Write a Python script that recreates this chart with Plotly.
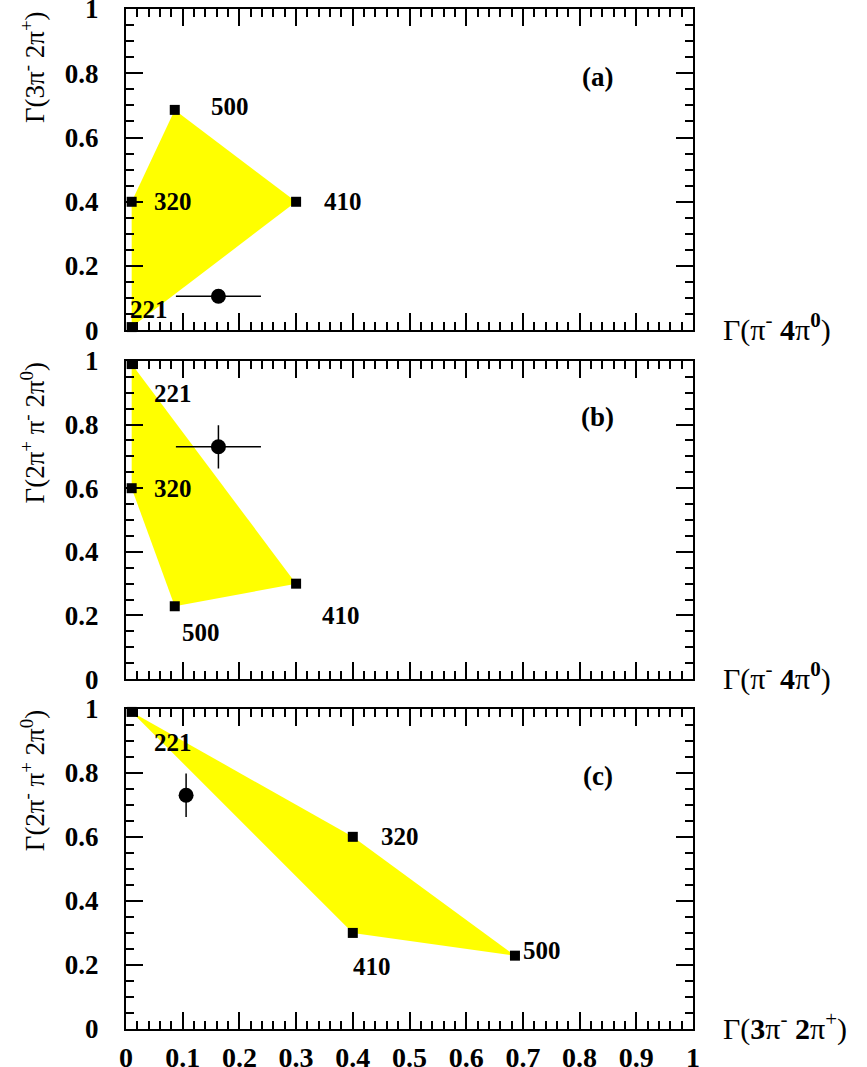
import plotly.graph_objects as go

# model predictions (isospin classes) and the measurement
models = ['221', '320', '410', '500']
g_pi4pi0 = [0.01, 0.01, 0.30, 0.086]      # Gamma(pi- 4pi0)
g_3pi2pi = [0.01, 0.40, 0.40, 0.686]      # Gamma(3pi- 2pi+)
g_2pipi2pi = [0.99, 0.60, 0.30, 0.229]    # Gamma(2pi+ pi- 2pi0)

meas_pi4pi0, err_pi4pi0 = 0.163, 0.075
meas_3pi2pi, err_3pi2pi = 0.106, 0.006
meas_2pipi2pi, err_2pipi2pi = 0.73, 0.068

x_ticks = [0, 0.1, 0.2, 0.3, 0.4, 0.5, 0.6, 0.7, 0.8, 0.9, 1]
x_ticklabels = ['0', '0.1', '0.2', '0.3', '0.4', '0.5', '0.6', '0.7', '0.8', '0.9', '1']
y_ticks = [0, 0.2, 0.4, 0.6, 0.8, 1]
y_ticklabels = ['0', '0.2', '0.4', '0.6', '0.8', '1']

SERIF = 'Liberation Serif'

panels = [
    dict(x=g_pi4pi0, y=g_3pi2pi, hull=[0, 2, 3, 1],
         mx=(meas_pi4pi0, err_pi4pi0), my=(meas_3pi2pi, err_3pi2pi),
         shifts=[(17, 18), (41, 0), (47, 0), (55, 3)],
         tag='(a)', tag_y=0.788,
         ytitle='Γ(3π<sup>-</sup> 2π<sup>+</sup>)',
         xtitle='Γ(π<sup>-</sup> <b>4</b>π<sup><b>0</b></sup>)',
         dom=[0.685, 1.0]),
    dict(x=g_pi4pi0, y=g_2pipi2pi, hull=[0, 2, 3, 1],
         mx=(meas_pi4pi0, err_pi4pi0), my=(meas_2pipi2pi, err_2pipi2pi),
         shifts=[(41, -29), (41, 0), (45, -32), (26, -26)],
         tag='(b)', tag_y=0.824,
         ytitle='Γ(2π<sup>+</sup> π<sup>-</sup> 2π<sup>0</sup>)',
         xtitle='Γ(π<sup>-</sup> <b>4</b>π<sup><b>0</b></sup>)',
         dom=[0.343, 0.655]),
    dict(x=g_3pi2pi, y=g_2pipi2pi, hull=[0, 1, 3, 2],
         mx=(meas_3pi2pi, err_3pi2pi), my=(meas_2pipi2pi, err_2pipi2pi),
         shifts=[(41, -31), (47, 0), (19, -34), (27, 5)],
         tag='(c)', tag_y=0.79,
         ytitle='Γ(2π<sup>-</sup> π<sup>+</sup> 2π<sup>0</sup>)',
         xtitle='Γ(<b>3</b>π<sup>-</sup> <b>2</b>π<sup>+</sup>)',
         dom=[0.0, 0.314]),
]

fig = go.Figure()
annotations = []

for i, p in enumerate(panels):
    n = '' if i == 0 else str(i + 1)
    xa, ya = 'x' + n, 'y' + n
    hx = [p['x'][k] for k in p['hull']] + [p['x'][p['hull'][0]]]
    hy = [p['y'][k] for k in p['hull']] + [p['y'][p['hull'][0]]]
    fig.add_trace(go.Scatter(x=hx, y=hy, fill='toself', fillcolor='#ffff00',
                             mode='lines', line=dict(width=0),
                             xaxis=xa, yaxis=ya, showlegend=False))
    fig.add_trace(go.Scatter(x=p['x'], y=p['y'], mode='markers',
                             marker=dict(symbol='square', size=10, color='black'),
                             xaxis=xa, yaxis=ya, showlegend=False, cliponaxis=False))
    fig.add_trace(go.Scatter(x=[p['mx'][0]], y=[p['my'][0]], mode='markers',
                             marker=dict(symbol='circle', size=15, color='black'),
                             error_x=dict(type='constant', value=p['mx'][1], width=0,
                                          thickness=1.5, color='black'),
                             error_y=dict(type='constant', value=p['my'][1], width=0,
                                          thickness=1.5, color='black'),
                             xaxis=xa, yaxis=ya, showlegend=False))

    for k, m in enumerate(models):
        annotations.append(dict(x=p['x'][k], y=p['y'][k], xref=xa, yref=ya,
                                text='<b>%s</b>' % m, showarrow=False,
                                xshift=p['shifts'][k][0], yshift=p['shifts'][k][1],
                                font=dict(family=SERIF, size=25, color='black')))
    annotations.append(dict(x=0.832, y=p['tag_y'], xref=xa, yref=ya,
                            text='<b>%s</b>' % p['tag'], showarrow=False,
                            font=dict(family=SERIF, size=27, color='black')))
    annotations.append(dict(x=1.05, y=0, xref=xa + ' domain', yref=ya + ' domain',
                            xanchor='left', yanchor='middle', yshift=3,
                            text=p['xtitle'], showarrow=False,
                            font=dict(family=SERIF, size=30, color='black')))
    annotations.append(dict(x=-0.164, y=1, xref=xa + ' domain', yref=ya + ' domain',
                            xanchor='center', yanchor='top', textangle=-90,
                            text=p['ytitle'], showarrow=False,
                            font=dict(family=SERIF, size=27, color='black')))

    axis_common = dict(range=[0, 1], showgrid=False, zeroline=False,
                       showline=True, linecolor='black', linewidth=2,
                       mirror='ticks', ticks='inside', ticklen=17,
                       tickwidth=1.5, tickcolor='black', automargin=False,
                       ticklabeloverflow='allow')
    fig.update_layout(**{
        'xaxis' + n: dict(axis_common, anchor=ya, tickvals=x_ticks,
                          ticktext=x_ticklabels, showticklabels=(i == 2),
                          minor=dict(dtick=0.02, ticklen=8, ticks='inside',
                                     tickwidth=1.5, tickcolor='black'),
                          tickfont=dict(family=SERIF, size=28, weight='bold',
                                        color='black'),
                          ticklabelstandoff=2),
        'yaxis' + n: dict(axis_common, anchor=xa, domain=p['dom'],
                          tickvals=y_ticks, ticktext=y_ticklabels,
                          minor=dict(dtick=0.05, ticklen=8, ticks='inside',
                                     tickwidth=1.5, tickcolor='black'),
                          tickfont=dict(family=SERIF, size=27, weight='bold',
                                        color='black'),
                          ticklabelstandoff=20),
    })

fig.update_layout(width=867, height=1067,
                  margin=dict(l=126, r=174, t=9, b=38),
                  plot_bgcolor='white', paper_bgcolor='white',
                  annotations=annotations)

# drop the default page margin so the figure sits at the window corner
fig.write_html('out.html', config={'displayModeBar': False},
               post_script="document.body.style.margin='0';")
